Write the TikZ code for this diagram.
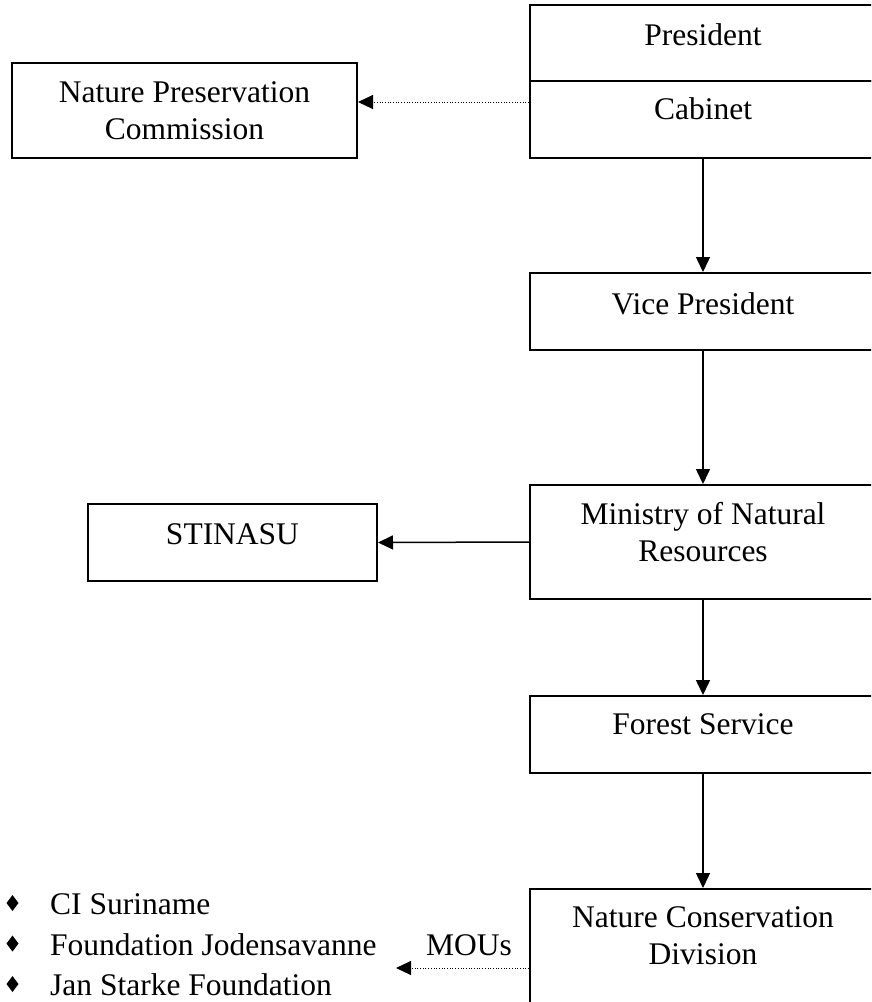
\documentclass[tikz,border=0pt]{standalone}
\usepackage{fontspec}
\setmainfont{Liberation Serif}
\usetikzlibrary{arrows.meta}
\begin{document}
\begin{tikzpicture}[x=1pt,y=-1pt,
  orgbox/.style={draw=black, line width=2pt, rectangle, inner sep=0pt, minimum width=346pt},
  sidebox/.style={draw=black, line width=2pt, rectangle, inner sep=0pt},
  lbl/.style={font=\fontsize{31.5pt}{36.5pt}\selectfont, inner sep=0pt, anchor=base, align=center},
  link/.style={line width=1.5pt, -{Triangle[length=15pt,width=14pt]}},
  dotlink/.style={line width=1pt, dash pattern=on 1pt off 1.7pt, -{Triangle[length=15pt,width=14pt]}}
]
\useasboundingbox (0,0) rectangle (871,1002);
\clip (0,0) rectangle (871,1002);

% main chain of command
\node[orgbox, minimum height=76pt]  (pres) at (703,43)    {};
\node[orgbox, minimum height=77pt]  (cab)  at (703,119.5) {};
\node[orgbox, minimum height=77pt]  (vp)   at (703,311.5) {};
\node[orgbox, minimum height=114pt] (min)  at (703,542)   {};
\node[orgbox, minimum height=77pt]  (fs)   at (703,734.5) {};
\node[orgbox, minimum height=158pt] (ncd)  at (703,968)   {};

% side bodies
\node[sidebox, minimum width=345pt, minimum height=95pt] (npc)  at (184.5,110.5) {};
\node[sidebox, minimum width=289pt, minimum height=77pt] (stin) at (232.5,542.5) {};

% box captions (multi-line captions are anchored on their last line)
\node[lbl] (presT) at ([yshift=-41pt]pres.north) {President};
\node[lbl] (cabT)  at ([yshift=-39pt]cab.north)  {Cabinet};
\node[lbl] (vpT)   at ([yshift=-42pt]vp.north)   {Vice President};
\node[lbl] (minT)  at ([yshift=-77pt]min.north)  {Ministry of Natural\\Resources};
\node[lbl] (fsT)   at ([yshift=-39pt]fs.north)   {Forest Service};
\node[lbl] (ncdT)  at ([yshift=-76pt]ncd.north)  {Nature Conservation\\Division};
\node[lbl] (npcT)  at ([yshift=-77pt]npc.north)  {Nature Preservation\\Commission};
\node[lbl] (stinT) at ([yshift=-41pt]stin.north) {STINASU};

% partner list with diamond bullets
\node[lbl, anchor=base west, align=left, font=\fontsize{31.5pt}{40.5pt}\selectfont] (list) at (50,995.5)
  {CI Suriname\\Foundation Jodensavanne\\Jan Starke Foundation};
\foreach \yb in {914.5,955,995.5}
  \fill (12.5,{\yb-19.5}) -- (18.5,{\yb-11.5}) -- (12.5,{\yb-3.5}) -- (6.5,{\yb-11.5}) -- cycle;

\node[lbl] (mous) at (469,955) {MOUs};
\coordinate (mouend) at (396,968);

% connectors
\draw[link] (cab.south) -- (vp.north);
\draw[link] (vp.south) -- (min.north);
\draw[link] (min.south) -- (fs.north);
\draw[link] (fs.south) -- (ncd.north);
\draw[link] (min.west) -- (stin.east);
\draw[dotlink] ([yshift=17.5pt]cab.west) -- ([yshift=17.5pt]cab.west -| npc.east);
\draw[dotlink] (ncd.west) -- (mouend);
\end{tikzpicture}
\end{document}
